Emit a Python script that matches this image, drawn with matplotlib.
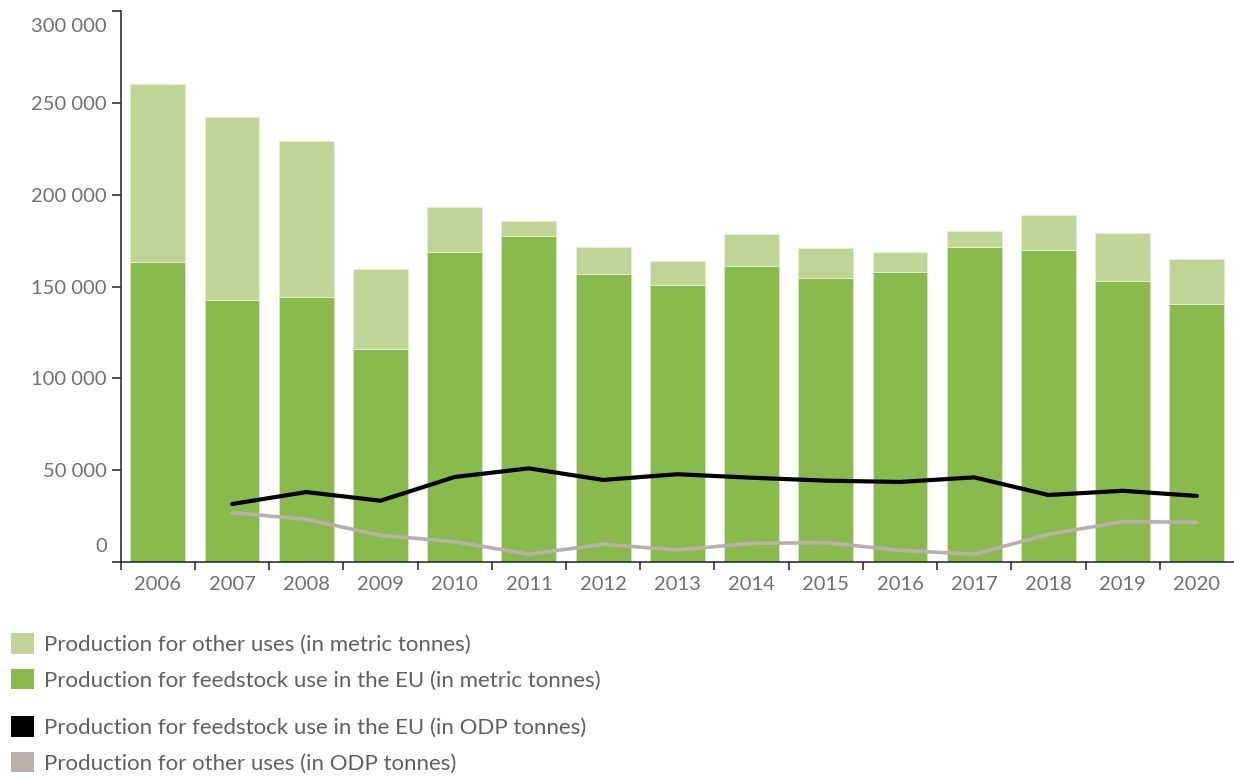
import numpy as np
import matplotlib.pyplot as plt
from matplotlib.patches import Patch
from matplotlib.ticker import FixedLocator, FuncFormatter
from matplotlib.transforms import ScaledTranslation

plt.rcParams['font.family'] = ['Lato', 'DejaVu Sans']

years = ['2006', '2007', '2008', '2009', '2010', '2011', '2012', '2013',
         '2014', '2015', '2016', '2017', '2018', '2019', '2020']

# metric tonnes
feedstock_t = [163300, 142700, 144500, 116200, 168900, 177300, 156600, 151000,
               161300, 154800, 157700, 171700, 169900, 153000, 140700]
other_t = [96800, 99500, 84700, 43200, 24500, 8500, 15000, 13100,
           17100, 16000, 11200, 8500, 18900, 26300, 24500]

# ODP tonnes (no figure for 2006)
feedstock_odp = [np.nan, 31700, 38200, 33500, 46400, 51100, 44800, 47900,
                 46000, 44400, 43700, 46200, 36600, 38900, 36100]
other_odp = [np.nan, 27000, 23400, 14700, 11200, 4400, 9800, 6700,
             10300, 10700, 6500, 4400, 15200, 22100, 21800]

legend_labels = ['Production for other uses (in metric tonnes)',
                 'Production for feedstock use in the EU (in metric tonnes)',
                 'Production for feedstock use in the EU (in ODP tonnes)',
                 'Production for other uses (in ODP tonnes)']

LIGHT = '#c0d595'
DARK = '#88bb4c'
GREY = '#b9b0ac'
TXT = '#707070'

fig = plt.figure(figsize=(12.34, 7.76), dpi=100)
ax = fig.add_axes([120.7 / 1234, 213.7 / 776, 1113.3 / 1234, 551.6 / 776])

x = np.arange(len(years))
ax.bar(x, feedstock_t, width=0.74, color=DARK, edgecolor='#d6e6bf', linewidth=0.6, zorder=2)
ax.bar(x, other_t, width=0.74, bottom=feedstock_t, color=LIGHT, edgecolor='#e6efd8',
       linewidth=0.6, zorder=2)
ax.plot(x, feedstock_odp, color='black', lw=3.0, solid_capstyle='round',
        solid_joinstyle='round', zorder=3)
ax.plot(x, other_odp, color=GREY, lw=2.6, solid_capstyle='round',
        solid_joinstyle='round', zorder=3)

ax.set_xlim(-0.5, len(years) - 0.5)
ax.set_ylim(0, 300000)

for s in ['top', 'right']:
    ax.spines[s].set_visible(False)
for s in ['left', 'bottom']:
    ax.spines[s].set_color('#222222')
    ax.spines[s].set_linewidth(1.1)

ax.set_xticks(x)
ax.set_xticklabels(years)
ax.xaxis.set_minor_locator(FixedLocator(np.arange(len(years)) - 0.5))
ax.tick_params(axis='x', which='major', length=0, pad=10, labelsize=14.5, labelcolor=TXT)
ax.tick_params(axis='x', which='minor', length=6, width=1.1, color='#222222')

ax.set_yticks(np.arange(0, 300001, 50000))
ax.yaxis.set_major_formatter(FuncFormatter(lambda v, p: f'{int(v):,}'.replace(',', ' ')))
ax.tick_params(axis='y', length=6.5, width=1.1, color='#222222', pad=3.5,
               labelsize=14.5, labelcolor=TXT)

# keep the end labels inside the axis span
yt = ax.yaxis.get_major_ticks()
lab0 = yt[0].label1
lab0.set_transform(lab0.get_transform() + ScaledTranslation(0, 17 / 100, fig.dpi_scale_trans))
labn = yt[-1].label1
labn.set_transform(labn.get_transform() + ScaledTranslation(0, -14 / 100, fig.dpi_scale_trans))

h1 = [Patch(facecolor=LIGHT), Patch(facecolor=DARK)]
h2 = [Patch(facecolor='black'), Patch(facecolor=GREY)]
leg_kw = dict(loc='upper left', frameon=False, fontsize=16, handlelength=1.05,
              handleheight=1.05, handletextpad=0.42, labelspacing=0.62,
              borderpad=0, borderaxespad=0, labelcolor='#606060')
fig.legend(handles=h1, labels=legend_labels[:2], bbox_to_anchor=(11 / 1234, 1 - 633 / 776), **leg_kw)
fig.legend(handles=h2, labels=legend_labels[2:], bbox_to_anchor=(11 / 1234, 1 - 716 / 776), **leg_kw)

fig.savefig('out.png', dpi=100, facecolor='white')
